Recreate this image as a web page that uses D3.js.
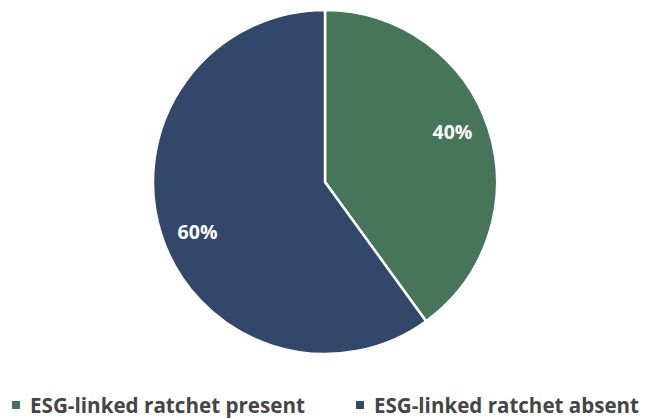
<!DOCTYPE html>
<html><head><meta charset="utf-8">
<script src="https://cdn.jsdelivr.net/npm/d3@7"></script>
<style>body{margin:0;background:#fff}svg{display:block}</style>
</head><body>
<svg id="c" width="646" height="418"></svg>
<script>
const categories = ["ESG-linked ratchet present", "ESG-linked ratchet absent"];
const values = [40, 60];
const colors = ["#477559", "#33476a"];

const svg = d3.select("#c");
const cx = 325, cy = 182, R = 172;
const g = svg.append("g").attr("transform", `translate(${cx},${cy})`);
const pie = d3.pie().sort(null).value(d => d)(values);
const arc = d3.arc().innerRadius(0).outerRadius(R);
g.selectAll("path").data(pie).join("path")
  .attr("d", arc).attr("fill", (d, i) => colors[i])
  .attr("stroke", "#fff").attr("stroke-width", 2.5);
const labelR = 137, rot = -3.5 * Math.PI / 180;
g.selectAll("text").data(pie).join("text")
  .attr("transform", d => {
    const a = (d.startAngle + d.endAngle) / 2 + rot;
    return `translate(${labelR * Math.sin(a)},${-labelR * Math.cos(a)})`;
  })
  .attr("text-anchor", "middle").attr("dy", "0.36em")
  .attr("fill", "#fff").attr("font-family", "Open Sans, sans-serif")
  .attr("font-weight", 700).attr("font-size", 19.5)
  .text(d => d.data + "%");

const legendX = [12, 356];
const legendW = [275, 265];
const lg = svg.append("g");
categories.forEach((c, i) => {
  lg.append("rect").attr("x", legendX[i]).attr("y", 401).attr("width", 8).attr("height", 8).attr("fill", colors[i]);
  lg.append("text").attr("x", legendX[i] + 18).attr("y", 412.5)
    .attr("font-family", "Open Sans, sans-serif").attr("font-weight", 700)
    .attr("font-size", 21).attr("fill", "#454545")
    .attr("textLength", legendW[i]).attr("lengthAdjust", "spacingAndGlyphs")
    .text(c);
});
</script>
</body></html>
